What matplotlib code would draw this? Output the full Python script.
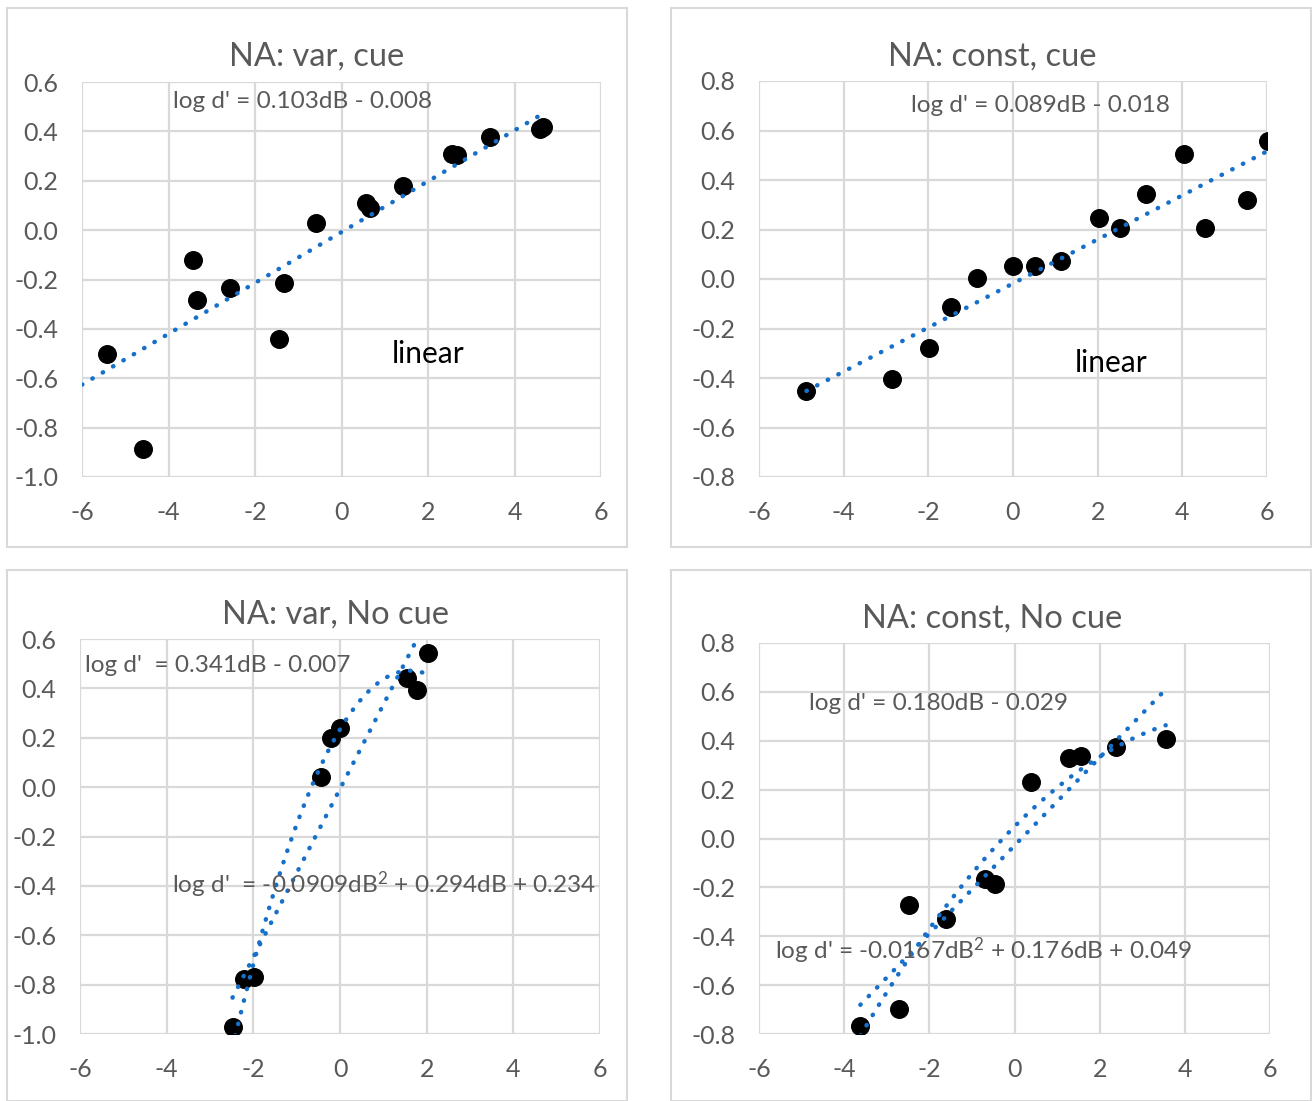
import matplotlib
matplotlib.use("Agg")
import matplotlib.pyplot as plt
from matplotlib.patches import Rectangle
from matplotlib.ticker import FuncFormatter
import numpy as np

plt.rcParams["font.family"] = ["Lato", "DejaVu Sans"]
plt.rcParams["axes.unicode_minus"] = False
plt.rcParams["mathtext.fontset"] = "custom"
plt.rcParams["mathtext.rm"] = "Lato"
plt.rcParams["mathtext.default"] = "rm"

W, H = 1312, 1101

# ── data ────────────────────────────────────────────────────────────────────
var_cue_x = [-5.43, -4.58, -3.44, -3.35, -2.57, -1.34, -1.44, -0.58, 0.57, 0.66,
             1.43, 2.55, 2.67, 3.43, 4.58, 4.67]
var_cue_y = [-0.50, -0.885, -0.122, -0.283, -0.236, -0.215, -0.442, 0.03, 0.108, 0.088,
             0.18, 0.308, 0.304, 0.379, 0.408, 0.418]
var_cue_lin = [0.103, -0.008]
var_cue_span = (-6.0, 4.67)

const_cue_x = [-4.88, -2.87, -1.98, -1.47, -0.86, 0.01, 0.53, 1.14, 2.02, 2.52,
               3.13, 4.03, 4.53, 5.53, 6.02]
const_cue_y = [-0.451, -0.406, -0.278, -0.112, 0.006, 0.052, 0.052, 0.071, 0.247, 0.207,
               0.345, 0.506, 0.207, 0.32, 0.556]
const_cue_lin = [0.089, -0.018]
const_cue_span = (-4.88, 6.0)

var_nocue_x = [-2.48, -2.21, -1.98, -0.43, -0.21, 0.01, 1.55, 1.78, 2.02]
var_nocue_y = [-0.972, -0.777, -0.770, 0.039, 0.199, 0.238, 0.444, 0.392, 0.544]
var_nocue_lin = [0.341, -0.007]
var_nocue_quad = [-0.0909, 0.294, 0.234]
var_nocue_span = (-2.48, 2.02)

const_nocue_x = [-3.62, -2.72, -2.47, -1.62, -0.70, -0.45, 0.39, 1.29, 1.56, 2.39, 3.55]
const_nocue_y = [-0.769, -0.696, -0.272, -0.329, -0.166, -0.186, 0.233, 0.329, 0.336,
                 0.375, 0.406]
const_nocue_lin = [0.180, -0.029]
const_nocue_quad = [-0.0167, 0.176, 0.049]
const_nocue_span = (-3.62, 3.55)

x_ticks = [-6, -4, -2, 0, 2, 4, 6]

C_TEXT = "#595959"
C_GRID = "#d9d9d9"
C_TREND = "#1670c9"

fig = plt.figure(figsize=(W / 100, H / 100), dpi=100, facecolor="white")


def fx(px):
    return px / W


def fy(py):
    return 1 - py / H


def frame(x0, y0, x1, y1):
    fig.patches.append(Rectangle((fx(x0), fy(y1)), fx(x1) - fx(x0), fy(y0) - fy(y1),
                                 transform=fig.transFigure, fill=False,
                                 edgecolor=C_GRID, linewidth=1.5))


def fmt_y(v, _pos):
    v = round(v, 1)
    return f"{abs(v):.1f}" if v == 0 else f"{v:.1f}"


def panel(box, ylim, title, title_xy, xs, ys, fits, span, labels):
    l, r, t, b = box
    ax = fig.add_axes([fx(l), fy(b), fx(r) - fx(l), fy(t) - fy(b)])
    ax.set_xlim(-6, 6)
    ax.set_ylim(*ylim)
    ax.set_xticks(x_ticks)
    ax.set_yticks(np.arange(ylim[0], ylim[1] + 0.01, 0.2))
    ax.yaxis.set_major_formatter(FuncFormatter(fmt_y))
    ax.tick_params(length=0, labelsize=18, labelcolor=C_TEXT, pad=17)
    for s in ax.spines.values():
        s.set_visible(False)
    ax.grid(True, color=C_GRID, linewidth=1.6)
    ax.set_axisbelow(True)

    # trendlines from the fitted coefficients shown on the chart
    xx = np.linspace(span[0], span[1], 200)
    for coefs in fits:
        ax.plot(xx, np.polyval(coefs, xx), color=C_TREND, linestyle=(0, (0.1, 2.6)),
                linewidth=3.2, dash_capstyle="round", zorder=3)
    ax.scatter(xs, ys, s=160, color="black", zorder=2)

    fig.text(fx(title_xy[0]), fy(title_xy[1]), title, ha="center", va="center",
             fontsize=23.5, color=C_TEXT)
    for txt, px, py, color, size in labels:
        fig.text(fx(px), fy(py), txt, ha="left", va="center", fontsize=size, color=color)
    return ax


frame(7, 8, 627, 547)
frame(671, 8, 1311, 547)
frame(7, 570, 627, 1101)
frame(671, 570, 1311, 1101)

panel((82, 601, 82, 477), (-1.0, 0.6), "NA: var, cue", (317, 57),
      var_cue_x, var_cue_y, [var_cue_lin], var_cue_span,
      [("log d' = 0.103dB - 0.008", 173, 102, C_TEXT, 17.6),
       ("linear", 392, 354, "black", 21.5)])

panel((759, 1267, 81, 477), (-0.8, 0.8), "NA: const, cue", (992, 57),
      const_cue_x, const_cue_y, [const_cue_lin], const_cue_span,
      [("log d' = 0.089dB - 0.018", 911, 105, C_TEXT, 17.6),
       ("linear", 1075, 363, "black", 21.5)])

panel((80, 600, 639, 1034), (-1.0, 0.6), "NA: var, No cue", (336, 615),
      var_nocue_x, var_nocue_y, [var_nocue_lin, var_nocue_quad], var_nocue_span,
      [("log d'  = 0.341dB - 0.007", 85, 665, C_TEXT, 17.6),
       ("log d'  = -0.0909dB$^2$ + 0.294dB + 0.234", 172, 885, C_TEXT, 17.6)])

panel((759, 1270, 643, 1034), (-0.8, 0.8), "NA: const, No cue", (992, 619),
      const_nocue_x, const_nocue_y, [const_nocue_lin, const_nocue_quad], const_nocue_span,
      [("log d' = 0.180dB - 0.029", 809, 703, C_TEXT, 17.6),
       ("log d' = -0.0167dB$^2$ + 0.176dB + 0.049", 775, 951, C_TEXT, 17.6)])

fig.savefig("out.png", dpi=100, facecolor="white")
